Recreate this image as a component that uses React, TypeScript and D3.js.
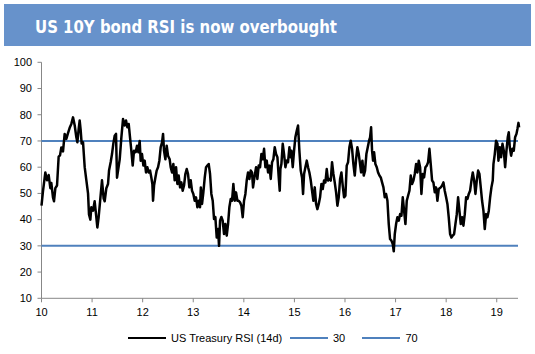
import React from 'react';
import * as d3 from 'd3';

// Time in years since Jan 2010 (x axis labels "10".."19" = 2010..2019)
const yearsSince2010 = [
  0.000, 0.030, 0.076, 0.109, 0.142, 0.175, 0.194, 0.227, 0.247, 0.274, 0.307, 0.339, 0.366, 0.392, 0.425, 0.458, 0.491, 0.524, 0.557, 0.590,
  0.623, 0.656, 0.689, 0.709, 0.735, 0.755, 0.775, 0.794, 0.821, 0.854, 0.887, 0.920, 0.939, 0.966, 0.985, 1.018, 1.051, 1.078, 1.104, 1.130,
  1.163, 1.196, 1.229, 1.249, 1.282, 1.315, 1.335, 1.368, 1.394, 1.420, 1.447, 1.473, 1.493,
  1.546, 1.579, 1.612, 1.645, 1.671, 1.697, 1.724, 1.750, 1.776, 1.803, 1.829, 1.862, 1.888, 1.915, 1.941, 1.961, 1.987, 2.014, 2.040, 2.066,
  2.093, 2.119, 2.146, 2.172, 2.192, 2.205, 2.225, 2.251, 2.277, 2.304, 2.330, 2.356, 2.383, 2.403, 2.422, 2.449, 2.475, 2.501, 2.534, 2.554,
  2.581, 2.607, 2.633, 2.660, 2.686, 2.712, 2.739, 2.765, 2.791, 2.818, 2.844, 2.871, 2.897, 2.923, 2.950, 2.976, 3.002, 3.029, 3.055, 3.082, 3.108,
  3.134, 3.150, 3.174, 3.200, 3.227, 3.253, 3.279, 3.306, 3.332, 3.358, 3.385, 3.411, 3.437, 3.464, 3.490, 3.510, 3.530, 3.556, 3.582, 3.609,
  3.635, 3.662, 3.688, 3.714, 3.741, 3.767, 3.793, 3.820, 3.846, 3.873, 3.899, 3.925, 3.952, 3.978, 4.004, 4.031, 4.057, 4.083, 4.110, 4.136,
  4.162, 4.182, 4.215, 4.242, 4.268, 4.294, 4.321, 4.347, 4.373, 4.400, 4.426, 4.453, 4.479, 4.505, 4.532, 4.558, 4.584, 4.611, 4.637, 4.664, 4.690, 4.710,
  4.723, 4.743, 4.769, 4.795, 4.822, 4.848, 4.874, 4.901, 4.921, 4.940, 4.967, 4.993, 5.019, 5.046, 5.072, 5.098, 5.125, 5.151, 5.171, 5.191,
  5.217, 5.244, 5.270, 5.296, 5.323, 5.349, 5.375, 5.402, 5.428, 5.454, 5.481, 5.507, 5.534, 5.560, 5.586, 5.613, 5.639, 5.665, 5.692, 5.718,
  5.744, 5.771, 5.797, 5.824, 5.850, 5.876, 5.903, 5.929, 5.955, 5.982, 6.008, 6.034, 6.061, 6.087, 6.113, 6.140, 6.166, 6.193, 6.219, 6.245, 6.272,
  6.292, 6.318, 6.344, 6.371, 6.397, 6.423, 6.450, 6.476, 6.496, 6.516, 6.535, 6.555, 6.575, 6.601, 6.628, 6.654, 6.681, 6.707, 6.733, 6.760,
  6.786, 6.812, 6.839, 6.865, 6.891, 6.918, 6.944, 6.964, 6.984, 7.010, 7.036, 7.063, 7.089, 7.116, 7.142, 7.168, 7.195, 7.221, 7.247, 7.274,
  7.300, 7.326, 7.353, 7.379, 7.406, 7.432, 7.458, 7.485, 7.511, 7.537, 7.564, 7.590, 7.616, 7.643, 7.669, 7.695, 7.722, 7.748, 7.775, 7.801, 7.827, 7.854,
  7.893, 7.920, 7.946, 7.972, 7.999, 8.025, 8.051, 8.078, 8.104, 8.130, 8.157, 8.183, 8.210, 8.236, 8.262, 8.289, 8.315, 8.341, 8.368, 8.394,
  8.421, 8.447, 8.473, 8.500, 8.526, 8.553, 8.579, 8.605, 8.632, 8.658, 8.684, 8.710, 8.737, 8.763, 8.790, 8.816, 8.843, 8.869, 8.895, 8.921,
  8.935, 8.961, 8.987, 9.014, 9.034, 9.060, 9.086, 9.113, 9.139, 9.166, 9.192, 9.218, 9.238, 9.258, 9.284, 9.311, 9.337, 9.363, 9.390, 9.409, 9.429, 9.442,
];

const rsiValues = [
  45.3, 51, 58, 55, 57, 52, 54, 48.5, 47, 52, 53, 64, 64.5, 67.5, 66, 72.7, 70.8, 73, 75, 76.5,
  79, 76, 71.4, 69.5, 74.6, 77.8, 74, 69, 69.5, 60, 55, 50, 42, 40, 44.7, 43.4, 47, 42, 37, 41,
  48, 55, 48, 47, 52, 53.6, 58.7, 62, 65, 69, 72, 72.7, 56,
  63, 71.4, 78.4, 75.9, 77.8, 75.2, 76.5, 71.4, 66.3, 60.6, 66.3, 65.7, 68.2, 65.7, 70, 62.5, 65, 60.6, 62.5, 58,
  60, 58, 58.7, 56, 53.6, 47.2, 53, 56, 58.7, 60, 62.5, 67.6, 69.5, 72.7, 66.3, 63, 68.2, 64.4, 63, 60,
  58, 61.2, 55, 60, 53.6, 56.8, 52.3, 54.2, 51, 53, 57.4, 59.3, 57.4, 52.3, 55, 51, 49.8, 47.2, 48.5, 44.7, 47.2,
  44.7, 52.3, 46, 50.4, 56, 60, 60.6, 61.2, 57.4, 49.8, 47.2, 40.2, 41, 33.2, 36.4, 30, 39.6, 41, 39.6, 34.5,
  38.3, 33.9, 38.3, 44.7, 47.9, 47.2, 53.6, 47.2, 50.4, 47.2, 47.2, 46.6, 45.3, 40.9, 47.2, 49.8, 54.9, 58, 55.5, 58.7,
  58, 52.3, 56.8, 60, 55.5, 60.6, 60, 65, 63, 67, 60, 62.5, 58, 60.6, 55.5, 61.9, 63, 67.6, 65, 63.8, 56.1, 51,
  59.3, 61.2, 68.9, 65, 60, 62.5, 61.9, 67.6, 63.8, 66.3, 60, 66.3, 71.4, 73.9, 75.9, 66.3, 58.7, 56, 49.8, 57.4,
  60, 62.5, 60, 58, 55, 51, 47.2, 52.3, 46, 44, 46, 48.5, 53.6, 51.7, 54.9, 54.2, 59.3, 54.9, 55.5, 54.9,
  61.9, 57.4, 54.2, 50.4, 45.3, 48.5, 55.5, 58, 53, 48.5, 49.1, 60.6, 61.9, 67.6, 70.1, 67, 61.2, 56.8, 63, 67.6, 65,
  62, 58, 62.5, 56.8, 58.7, 65, 67.6, 70.1, 71.4, 75.2, 66.3, 62.5, 65.7, 61.2, 60, 58, 56.8, 56.1, 54.2, 52.3,
  48.5, 49.8, 47.2, 38.3, 32.6, 32, 30.7, 27.9, 34.5, 38.3, 40.9, 39.6, 42.1, 41.5, 48.5, 43.4, 38.3, 47.2, 49.1, 51,
  56.8, 53.6, 54.9, 57.4, 61.2, 58, 62.5, 60, 49.8, 57.4, 56.1, 60, 60.6, 61.9, 67, 61.2, 54.9, 54.2, 50.4, 52.3, 47.2, 51.7,
  52.3, 53, 54.2, 51, 48.5, 46, 40.9, 34.5, 33.2, 33.9, 34.5, 38.3, 42.1, 48.5, 43.4, 38.3, 40.9, 37.7, 42.1, 48.5,
  47.9, 49.8, 51, 54.9, 58, 54.9, 49.8, 54.9, 58.7, 57.4, 52.3, 47.2, 43.4, 36.4, 42.1, 40.9, 43.4, 48.5, 52.3, 54.9,
  61.2, 65, 70.1, 68.9, 62.5, 67.6, 63.8, 68.9, 66.3, 60, 66.3, 71.4, 73.3, 67.6, 64.4, 67, 66.3, 71.4, 72.7, 74.6, 76.9, 75.2,
];

const yTicks = [10, 20, 30, 40, 50, 60, 70, 80, 90, 100];
const xTickYears = [0, 1, 2, 3, 4, 5, 6, 7, 8, 9];
const xTickLabels = ['10', '11', '12', '13', '14', '15', '16', '17', '18', '19'];
const thresholds = [30, 70];
const seriesNames = ['US Treasury RSI (14d)', '30', '70'];
const titleText = 'US 10Y bond RSI is now overbought';

export default function App() {
  const W = 535;
  const H = 354;
  const left = 41.5;
  const right = 519;
  const top = 62.3;
  const bottom = 298.3;
  const x = d3.scaleLinear().domain([0, 9.44]).range([left, right]);
  const y = d3.scaleLinear().domain([10, 100]).range([bottom, top]);
  const line = d3
    .line<number>()
    .x((_, i) => x(yearsSince2010[i]))
    .y((d) => y(d));
  const path = line(rsiValues) || '';
  const axisColor = '#878787';
  const blue = '#4F81BD';
  const font = "'Liberation Sans', Arial, sans-serif";

  const legendItems = [
    { x1: 128, x2: 166, tx: 171, color: '#000', label: seriesNames[0] },
    { x1: 290, x2: 328, tx: 333, color: blue, label: seriesNames[1] },
    { x1: 362, x2: 400, tx: 405.5, color: blue, label: seriesNames[2] },
  ];

  return (
    <svg
      width={W}
      height={H}
      style={{ position: 'absolute', left: 0, top: 0, background: '#fff' }}
      fontFamily={font}
    >
      <rect x={0} y={0} width={W} height={H} fill="#fff" />
      <rect x={4} y={4} width={527} height={42} fill="#6792CB" />
      <text
        x={35}
        y={33}
        fill="#fff"
        fontFamily="'DejaVu Sans', Verdana, sans-serif"
        fontWeight="bold"
        fontSize={18}
        textLength={302}
        lengthAdjust="spacingAndGlyphs"
      >
        {titleText}
      </text>

      {/* y axis */}
      <line x1={left} x2={left} y1={top} y2={bottom} stroke={axisColor} strokeWidth={1} />
      {yTicks.map((t) => (
        <g key={t}>
          <line x1={left - 4} x2={left} y1={y(t)} y2={y(t)} stroke={axisColor} />
          <text x={32} y={y(t)} dy="0.35em" textAnchor="end" fontSize={11} fill="#000">
            {t}
          </text>
        </g>
      ))}

      {/* x axis */}
      <line x1={left} x2={right - 1} y1={bottom} y2={bottom} stroke={axisColor} strokeWidth={1} />
      {xTickYears.map((t, i) => (
        <g key={t}>
          <line x1={x(t)} x2={x(t)} y1={bottom} y2={bottom + 4} stroke={axisColor} />
          <text x={x(t)} y={312.5} dy="0.35em" textAnchor="middle" fontSize={11} fill="#000">
            {xTickLabels[i]}
          </text>
        </g>
      ))}

      {/* thresholds */}
      {thresholds.map((v) => (
        <line key={v} x1={left} x2={right - 1} y1={y(v)} y2={y(v)} stroke={blue} strokeWidth={2} />
      ))}

      {/* RSI line */}
      <path d={path} fill="none" stroke="#000" strokeWidth={2.5} strokeLinejoin="round" />

      {/* legend */}
      {legendItems.map((it) => (
        <g key={it.label}>
          <line x1={it.x1} x2={it.x2} y1={338} y2={338} stroke={it.color} strokeWidth={2} />
          <text x={it.tx} y={338} dy="0.35em" fontSize={11} fill="#000">
            {it.label}
          </text>
        </g>
      ))}
    </svg>
  );
}
